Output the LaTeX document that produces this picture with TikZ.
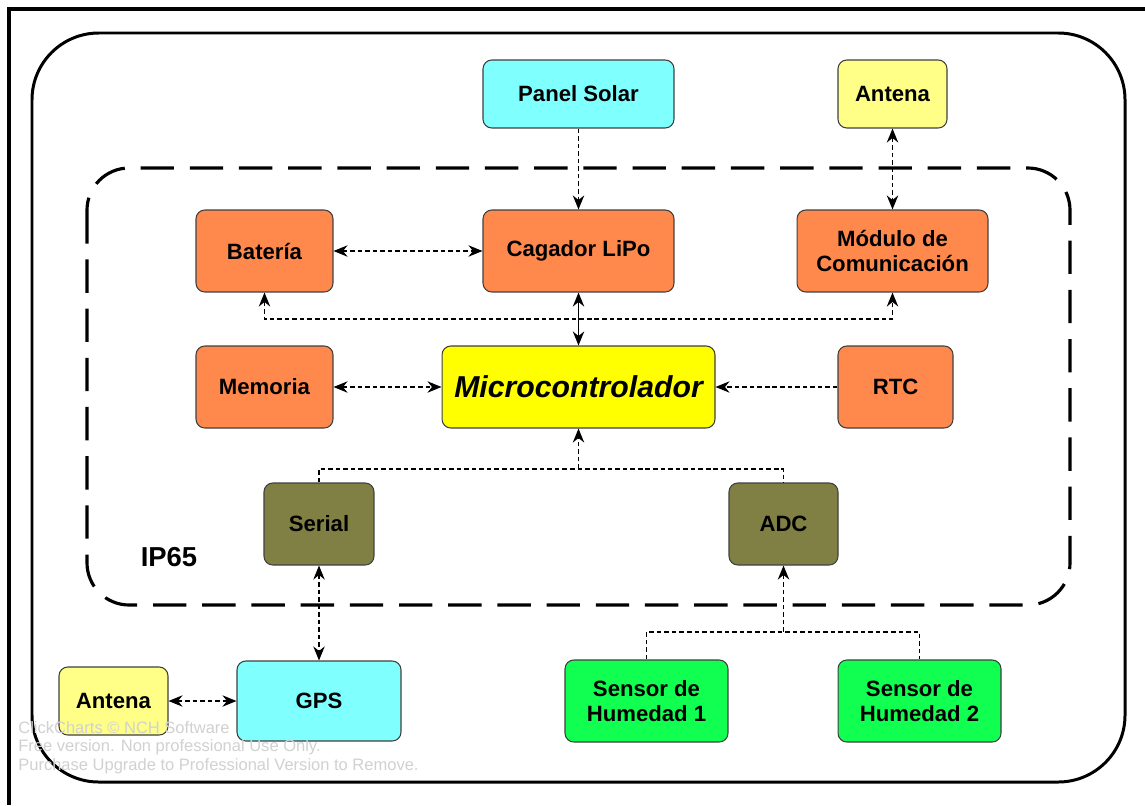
\documentclass[tikz,border=0pt]{standalone}
\usepackage{fontspec}
\setmainfont{Liberation Sans}
\usetikzlibrary{arrows.meta}
\tikzset {>=Stealth}
\definecolor{orangebox}{RGB}{255,136,77}
\definecolor{cyanbox}{RGB}{128,255,255}
\definecolor{paleyellow}{RGB}{255,255,136}
\definecolor{mcuyellow}{RGB}{255,255,0}
\definecolor{olivebox}{RGB}{128,128,68}
\definecolor{greenbox}{RGB}{16,255,80}
\tikzset{
  blk/.style={draw=black!75, line width=0.6pt, rounded corners=5pt, inner sep=0pt,
    align=center, font=\fontsize{12.6}{14}\selectfont\bfseries},
  link/.style={line width=0.8pt, dash pattern=on 2.6pt off 1.7pt, {Stealth[length=8pt,width=6.5pt]}-{Stealth[length=8pt,width=6.5pt]}},
  oneway/.style={line width=0.8pt, dash pattern=on 2.6pt off 1.7pt, -{Stealth[length=8pt,width=6.5pt]}},
  plain/.style={line width=0.8pt, dash pattern=on 2.6pt off 1.7pt}
}

\begin{document}
\begin{tikzpicture}[x=0.02cm,y=-0.02cm]
\useasboundingbox (0,0) rectangle (1145,805);
\fill[white] (0,0) rectangle (1145,805);
% frame and enclosures
\draw[line width=2.3pt] (1145,9) -- (9,9) -- (9,805);
\draw[line width=1.7pt, rounded corners=38pt] (32,33) rectangle (1125,782);
\draw[line width=1.8pt, dash pattern=on 19pt off 9pt, rounded corners=24pt] (87,168) rectangle (1070,605);
\node[font=\fontsize{15.6}{17}\selectfont\bfseries] (ip) at (169,557) {IP65};

% blocks
\node[blk, fill=cyanbox, minimum width=3.82cm, minimum height=1.36cm] (panel) at (578.5,94) {Panel Solar};
\node[blk, fill=paleyellow, minimum width=2.18cm, minimum height=1.36cm] (antA) at (892.5,94) {Antena};
\node[blk, fill=orangebox, minimum width=2.74cm, minimum height=1.64cm] (bat) at (264.5,251) {Batería};
\node[blk, fill=orangebox, minimum width=3.82cm, minimum height=1.64cm] (cag) at (578.5,251) {Cagador LiPo};
\node[blk, fill=orangebox, minimum width=3.82cm, minimum height=1.64cm] (mod) at (892.5,251) {Módulo de\\Comunicación};
\node[blk, fill=orangebox, minimum width=2.74cm, minimum height=1.64cm] (mem) at (264.5,387) {Memoria};
\node[blk, fill=mcuyellow, minimum width=5.46cm, minimum height=1.64cm,
  font=\fontsize{17.2}{19}\selectfont\bfseries\itshape] (mcu) at (578.5,387) {Microcontrolador};
\node[blk, fill=orangebox, minimum width=2.30cm, minimum height=1.64cm] (rtc) at (895.5,387) {RTC};
\node[blk, fill=olivebox, minimum width=2.20cm, minimum height=1.64cm] (ser) at (319,524) {Serial};
\node[blk, fill=olivebox, minimum width=2.18cm, minimum height=1.64cm] (adc) at (783.5,524) {ADC};
\node[blk, fill=paleyellow, minimum width=2.18cm, minimum height=1.36cm] (antB) at (113.5,701) {Antena};
\node[blk, fill=cyanbox, minimum width=3.28cm, minimum height=1.60cm] (gps) at (319,701) {GPS};
\node[blk, fill=greenbox, minimum width=3.26cm, minimum height=1.64cm] (hum1) at (646.5,701) {Sensor de\\Humedad 1};
\node[blk, fill=greenbox, minimum width=3.26cm, minimum height=1.64cm] (hum2) at (919.5,701) {Sensor de\\Humedad 2};

% bus points
\coordinate (busP) at (578.5,319);
\coordinate (busS) at (578.5,469);
\coordinate (busH) at (783.5,632);

% connectors
\draw[oneway] (panel) -- (cag);
\draw[link] (bat) -- (cag);
\draw[link] (antA) -- (mod);
\draw[link] (bat.south) |- (busP) -| (mod.south);
\draw[line width=0.9pt, {Stealth[length=8pt,width=6.5pt]}-{Stealth[length=8pt,width=6.5pt]}] (cag) -- (mcu);
\draw[link] (mem) -- (mcu);
\draw[oneway] (rtc) -- (mcu);
\draw[plain] (ser.north) |- (busS) -| (adc.north);
\draw[oneway] (busS) -- (mcu.south);
\draw[link] (ser) -- (gps);
\draw[link] (antB) -- (gps);
\draw[plain] (hum1.north) |- (busH) -| (hum2.north);
\draw[oneway] (busH) -- (adc.south);

% watermark
\node[anchor=north west, align=left, text=black!18, inner sep=0pt,
  font=\fontsize{9.4}{10.5}\selectfont] (mark) at (18,721)
  {ClickCharts © NCH Software\\Free version. Non professional Use Only.\\Purchase Upgrade to Professional Version to Remove.};
\end{tikzpicture}
\end{document}
